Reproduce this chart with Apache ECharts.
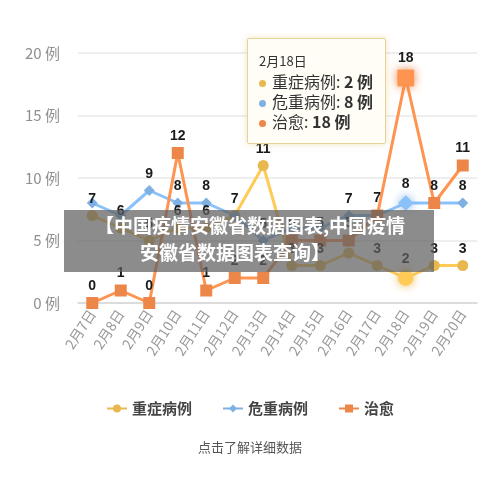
<!DOCTYPE html>
<html>
<head>
<meta charset="utf-8">
<script src="https://cdn.jsdelivr.net/npm/echarts@6/dist/echarts.min.js"></script>
<style>
html,body{margin:0;padding:0;background:#fff;}
#c{width:500px;height:483px;}
</style>
</head>
<body>
<div id="c"></div>
<script>
const dates = ['2月7日','2月8日','2月9日','2月10日','2月11日','2月12日','2月13日','2月14日','2月15日','2月16日','2月17日','2月18日','2月19日','2月20日'];
const severe = [7,6,5,6,6,7,11,3,3,4,3,2,3,3];
const critical = [8,7,9,8,8,7,5,6,6,7,7,8,8,8];
const cured = [0,1,0,12,1,2,2,5,5,5,7,18,8,11];
const yTicks = [0,5,10,15,20];
const seriesNames = ['重症病例','危重病例','治愈'];
const colors = ['#e8b84e','#7eb0e2','#ec8649'];

const chart = echarts.init(document.getElementById('c'), null, {renderer:'canvas'});
const font = '"Noto Sans CJK SC","Noto Sans",sans-serif';
const lbl = {show:true, position:'top', distance:4, color:'#1a1a1a', fontWeight:'bold', fontSize:14, fontFamily:'Liberation Sans, Arial, sans-serif'};
function mk(name, data, color, symbol, size){
  return {
    name, type:'line', data, symbol, symbolSize:size,
    lineStyle:{color, width:3}, itemStyle:{color},
    label:lbl, labelLayout:{hideOverlap:true},
    emphasis:{scale:1.4, itemStyle:{shadowBlur:10, shadowColor:color}}
  };
}
chart.setOption({
  animation:false,
  textStyle:{fontFamily:font},
  grid:{left:78, right:23, top:53, bottom:180},
  tooltip:{
    trigger:'axis', triggerOn:'none', alwaysShowContent:true, transitionDuration:0,
    position:[247,38], axisPointer:{type:'none'},
    backgroundColor:'#fffdf6', borderColor:'#e6d39c', borderWidth:1.5,
    padding:[12,12,12,11], extraCssText:'box-shadow:0 0 6px rgba(230,200,120,0.5);border-radius:2px;',
    formatter: function(ps){
      let s = '<div style="font-size:13px;color:#333;line-height:20px">'+ps[0].axisValue+'</div>';
      ps.forEach(p=>{
        s += '<div style="font-size:16px;color:#333;line-height:20px"><span style="display:inline-block;width:7px;height:7px;border-radius:50%;background:'+p.color+';margin-right:6px;vertical-align:middle"></span>'+p.seriesName+': <b>'+p.value+' 例</b></div>';
      });
      return s;
    }
  },
  legend:{
    data:seriesNames, bottom:62, left:'center', itemGap:30, itemWidth:20, itemHeight:10,
    textStyle:{fontSize:15, color:'#444', fontWeight:'bold', fontFamily:font}
  },
  xAxis:{
    type:'category', data:dates, boundaryGap:true,
    axisLine:{lineStyle:{color:'#d6d6d6', width:1.5}}, axisTick:{show:false},
    axisLabel:{rotate:57, color:'#9a9a9a', fontSize:14, margin:8, interval:0, fontFamily:font}
  },
  yAxis:{
    type:'value', min:yTicks[0], max:yTicks[yTicks.length-1], interval:5,
    axisLine:{show:false}, axisTick:{show:false},
    splitLine:{lineStyle:{color:'#e8e8e8', width:1.5}},
    axisLabel:{formatter:'{value} 例', color:'#8f8f8f', fontSize:15, margin:18, fontFamily:font}
  },
  series:[
    mk(seriesNames[0], severe, colors[0], 'circle', 11),
    mk(seriesNames[1], critical, colors[1], 'diamond', 11),
    mk(seriesNames[2], cured, colors[2], 'rect', 12)
  ],
  graphic:[
    {type:'rect', left:64, top:210, shape:{width:370, height:62}, style:{fill:'rgba(95,95,95,0.72)'}, z:100},
    {type:'text', left:'center', top:216, style:{text:'【中国疫情安徽省数据图表,中国疫情', fill:'#fff', font:'bold 19px "Noto Sans CJK SC", sans-serif'}, z:101},
    {type:'text', left:140, top:243, style:{text:'安徽省数据图表查询】', fill:'#fff', font:'bold 19px "Noto Sans CJK SC", sans-serif'}, z:101},
    {type:'text', left:'center', top:441, style:{text:'点击了解详细数据', fill:'#555', font:'13px "Noto Sans CJK SC", sans-serif'}, z:10}
  ]
});
chart.dispatchAction({type:'showTip', seriesIndex:0, dataIndex:11});
</script>
</body>
</html>
